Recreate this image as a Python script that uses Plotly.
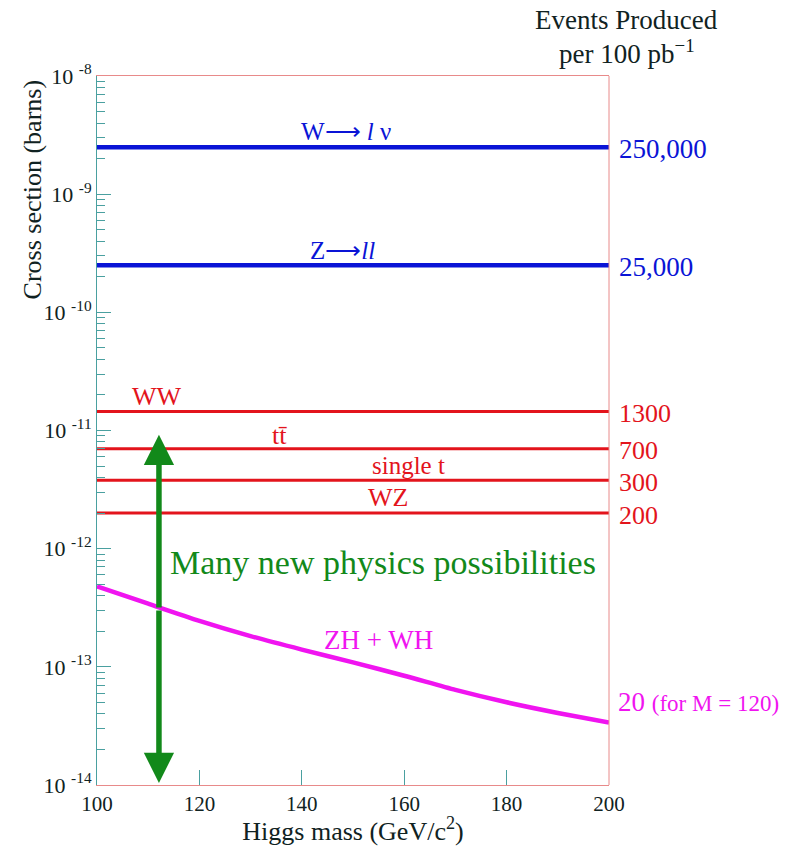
import math
import plotly.graph_objects as go

# ---------------- data ----------------
mass_range = [100, 200]                       # Higgs mass axis (GeV/c^2)
bg_labels = ["W\u27f6 <i>l</i> ν", "Z\u27f6<i>ll</i>", "WW", "tt\u0304", "single t", "WZ"]
bg_xsec = [2.5e-9, 2.5e-10, 1.45e-11, 7.0e-12, 3.8e-12, 2.0e-12]   # barns
bg_events = ["250,000", "25,000", "1300", "700", "300", "200"]

higgs_mass = [100, 110, 120, 130, 140, 150, 160, 170, 180, 190, 200]
zhwh_xsec = [4.80e-13, 3.42e-13, 2.45e-13, 1.82e-13, 1.40e-13, 1.09e-13,
             8.41e-14, 6.38e-14, 5.01e-14, 4.07e-14, 3.37e-14]
zhwh_label = "ZH + WH"
zhwh_events = "20"
zhwh_note = "(for M = 120)"

arrow_mass = 112.1
arrow_xsec = [1.04e-14, 9.2e-12]
arrow_label = "Many new physics possibilities"

ytick_vals = [1e-8, 1e-9, 1e-10, 1e-11, 1e-12, 1e-13, 1e-14]
ytick_text = ["10 <sup>-8</sup>", "10 <sup>-9</sup>", "10 <sup>-10</sup>", "10 <sup>-11</sup>",
              "10 <sup>-12</sup>", "10 <sup>-13</sup>", "10 <sup>-14</sup>"]
xtick_vals = [100, 120, 140, 160, 180, 200]
xtick_text = ["100", "120", "140", "160", "180", "200"]

# ---------------- styles ----------------
FONT = "Liberation Serif"
BLUE = "#0a14d6"
RED = "#e3141c"
MAG = "#f014f0"
GREEN = "#12891a"
TEAL = "#4aa0a0"
PINK = "#e88a8a"
TXT = "#102222"

bg_colors = [BLUE, BLUE, RED, RED, RED, RED]
bg_widths = [4.5, 4.5, 3, 3, 3, 3]
# label positions (mass, log10 sigma) and sizes
bg_label_pos = [(148.6, -8.47), (148.0, -9.48), (111.7, -10.715),
                (135.7, -11.04), (160.9, -11.292), (156.8, -11.57)]
bg_label_size = [25, 25, 26, 26, 25, 26]
bg_event_size = [27, 27, 26, 26, 26, 26]

fig = go.Figure()

for name, v, c, w in zip(bg_labels, bg_xsec, bg_colors, bg_widths):
    fig.add_trace(go.Scatter(x=mass_range, y=[v, v], mode="lines",
                             line=dict(color=c, width=w), name=name,
                             showlegend=False, hoverinfo="skip"))

fig.add_trace(go.Scatter(x=higgs_mass, y=zhwh_xsec, mode="lines",
                         line=dict(color=MAG, width=4.5, shape="spline", smoothing=0.6),
                         showlegend=False, hoverinfo="skip"))

annotations = []
for name, v, c, pos, fs in zip(bg_labels, bg_xsec, bg_colors, bg_label_pos, bg_label_size):
    annotations.append(dict(x=pos[0], y=pos[1], xref="x", yref="y", text=name,
                            showarrow=False, font=dict(family=FONT, size=fs, color=c),
                            xanchor="center", yanchor="middle"))
for ev, v, c, fs in zip(bg_events, bg_xsec, bg_colors, bg_event_size):
    annotations.append(dict(x=1, y=math.log10(v), xref="paper", yref="y", text=ev,
                            showarrow=False, font=dict(family=FONT, size=fs, color=c),
                            xanchor="left", yanchor="middle", xshift=8, yshift=-2))

annotations.append(dict(x=154.9, y=-12.773, xref="x", yref="y", text=zhwh_label,
                        showarrow=False, font=dict(family=FONT, size=27, color=MAG)))
annotations.append(dict(x=1, y=math.log10(zhwh_xsec[-1]), xref="paper", yref="y",
                        text=zhwh_events + " <span style='font-size:23px'>" + zhwh_note + "</span>",
                        showarrow=False, font=dict(family=FONT, size=27, color=MAG),
                        xanchor="left", yanchor="middle", xshift=7, yshift=21))

annotations.append(dict(x=113.9, y=-12.121, xref="x", yref="y", text=arrow_label,
                        showarrow=False, font=dict(family=FONT, size=34, color=GREEN),
                        xanchor="left", yanchor="middle"))

mid = (math.log10(arrow_xsec[0]) + math.log10(arrow_xsec[1])) / 2
for tip in arrow_xsec:
    annotations.append(dict(x=arrow_mass, y=math.log10(tip), xref="x", yref="y",
                            ax=arrow_mass, ay=mid, axref="x", ayref="y", text="",
                            showarrow=True, arrowhead=2, arrowsize=1.1, arrowwidth=5.5,
                            arrowcolor=GREEN))

# header and y title
annotations.append(dict(x=1.035, y=1, xref="paper", yref="paper", text="Events Produced",
                        showarrow=False, font=dict(family=FONT, size=27, color=TXT),
                        xanchor="center", yanchor="middle", yshift=56))
annotations.append(dict(x=1.035, y=1, xref="paper", yref="paper",
                        text="per 100 pb<sup>−1</sup>",
                        showarrow=False, font=dict(family=FONT, size=27, color=TXT),
                        xanchor="center", yanchor="middle", yshift=24))
annotations.append(dict(x=-0.127, y=0.84, xref="paper", yref="paper",
                        text="Cross section (barns)", textangle=-90,
                        showarrow=False, font=dict(family=FONT, size=26, color=TXT),
                        xanchor="center", yanchor="middle"))

minor_vals = [m * 10.0 ** e for e in range(-14, -8) for m in range(2, 10)]

# the page body adds an 8 px offset, so the figure is 8 px smaller and shifted
fig.update_layout(
    width=800, height=838,
    margin=dict(l=89, r=199, t=68, b=61, autoexpand=False),
    paper_bgcolor="white", plot_bgcolor="white",
    annotations=annotations,
    xaxis=dict(range=mass_range, tickvals=xtick_vals, ticktext=xtick_text,
               automargin=False,
               ticks="inside", ticklen=15, tickcolor=TEAL, tickwidth=1,
               showline=True, linecolor=PINK, linewidth=1, mirror=True,
               showgrid=False, zeroline=False,
               tickfont=dict(family=FONT, size=21, color=TXT),
               title=dict(text="Higgs mass (GeV/c<sup>2</sup>)", standoff=0,
                          font=dict(family=FONT, size=26, color=TXT))),
    yaxis=dict(type="log", range=[-14, -8], tickvals=ytick_vals, ticktext=ytick_text,
               automargin=False,
               ticks="inside", ticklen=14, tickcolor=TEAL, tickwidth=1,
               minor=dict(tickvals=minor_vals, ticks="inside", ticklen=8,
                          tickcolor=TEAL, tickwidth=1, showgrid=False),
               showline=True, linecolor=TEAL, linewidth=1, mirror=False,
               showgrid=False, zeroline=False,
               tickfont=dict(family=FONT, size=22, color=TXT)),
    shapes=[dict(type="line", xref="paper", yref="paper", x0=1, x1=1, y0=0, y1=1,
                 line=dict(color=PINK, width=1))],
)

fig.write_html("out.html")
